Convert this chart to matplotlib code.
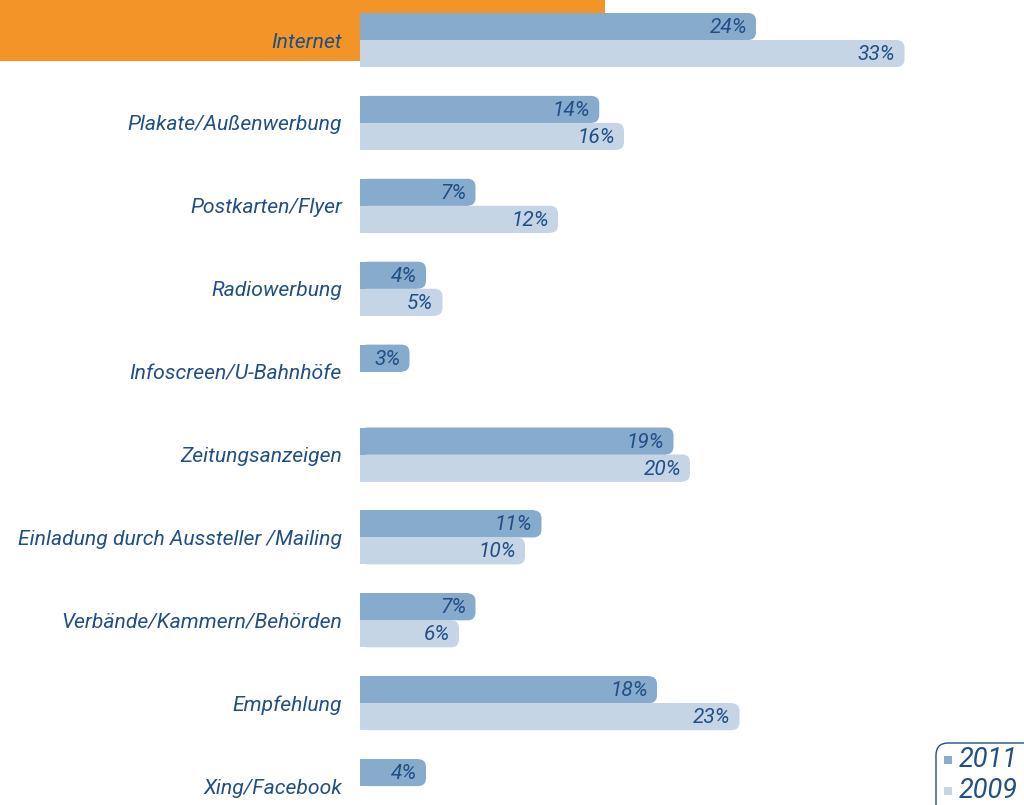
import matplotlib
matplotlib.use("Agg")
import matplotlib.pyplot as plt
from matplotlib.patches import FancyBboxPatch, Rectangle
from matplotlib import font_manager

names = {f.name for f in font_manager.fontManager.ttflist}
FONT = ["Liberation Sans Narrow", "Roboto", "DejaVu Sans"]
FONT = [f for f in FONT if f in names] or ["DejaVu Sans"]

categories = ["Internet", "Plakate/Außenwerbung", "Postkarten/Flyer", "Radiowerbung",
              "Infoscreen/U-Bahnhöfe", "Zeitungsanzeigen",
              "Einladung durch Aussteller /Mailing", "Verbände/Kammern/Behörden",
              "Empfehlung", "Xing/Facebook"]
share_2011 = [24, 14.5, 7, 4, 3, 19, 11, 7, 18, 4]
labels_2011 = ["24%", "14%", "7%", "4%", "3%", "19%", "11%", "7%", "18%", "4%"]
share_2009 = [33, 16, 12, 5, None, 20, 10, 6, 23, None]
labels_2009 = ["33%", "16%", "12%", "5%", "", "20%", "10%", "6%", "23%", ""]

C2011 = "#86abcd"
C2009 = "#c5d5e6"
TXT = "#1f4f86"
ORANGE = "#f29427"

W, H = 1024, 805
PX_X = 16.5      # pixels per percent
PX_Y = 82.9      # pixels per category
X0, Y0 = 360, 40
BAR_H = 27 / PX_Y

fig = plt.figure(figsize=(W / 100, H / 100), dpi=100)
fig.patches.append(Rectangle((0, 1 - 61 / H), 605 / W, 61 / H, transform=fig.transFigure,
                             facecolor=ORANGE, edgecolor="none", zorder=-1))

ax = fig.add_axes([X0 / W, 0, (W - X0) / W, 1])
ax.set_facecolor("none")
ax.set_xlim(0, (W - X0) / PX_X)
ax.set_ylim((H - Y0) / PX_Y, -Y0 / PX_Y)
ax.axis("off")

aspect = PX_X / PX_Y
r = 8 / PX_X


def rbar(x, y, color):
    ax.add_patch(FancyBboxPatch((0, y), x, BAR_H,
                                boxstyle=f"round,pad=0,rounding_size={r}",
                                mutation_aspect=aspect, facecolor=color,
                                edgecolor="none", zorder=2))
    ax.add_patch(Rectangle((0, y), x - r, BAR_H, facecolor=color,
                           edgecolor="none", zorder=2))


for i, cat in enumerate(categories):
    v1, v2 = share_2011[i], share_2009[i]
    rbar(v1, i - BAR_H, C2011)
    ax.text(v1 - 9 / PX_X, i - BAR_H / 2 + 1 / PX_Y, labels_2011[i], ha="right",
            va="center", fontsize=15, style="italic", color=TXT, family=FONT, zorder=3)
    if v2 is not None:
        rbar(v2, i, C2009)
        ax.text(v2 - 9 / PX_X, i + BAR_H / 2 + 1 / PX_Y, labels_2009[i], ha="right",
                va="center", fontsize=15, style="italic", color=TXT, family=FONT, zorder=3)
    ax.text(-18 / PX_X, i + 2 / PX_Y, cat, ha="right", va="center", fontsize=15.2,
            style="italic", color=TXT, family=FONT, clip_on=False)

# legend box, cut off by the figure edge like the original
fig.patches.append(FancyBboxPatch((936 / W, -0.05), 0.2, 1 - 743 / H + 0.05,
                                  boxstyle="round,pad=0,rounding_size=0.012",
                                  mutation_aspect=W / H, transform=fig.transFigure,
                                  facecolor="white", edgecolor=TXT, lw=1.0, zorder=4))
for yy, lab, col in [(760, "2011", C2011), (791, "2009", C2009)]:
    fig.patches.append(Rectangle((944 / W, 1 - (yy + 4) / H), 8 / W, 8 / H,
                                 transform=fig.transFigure, facecolor=col,
                                 edgecolor="none", zorder=5))
    fig.text(959 / W, 1 - yy / H, lab, ha="left", va="center", fontsize=19.5,
             style="italic", color=TXT, family=FONT, zorder=5)

fig.savefig("out.png", dpi=100)
